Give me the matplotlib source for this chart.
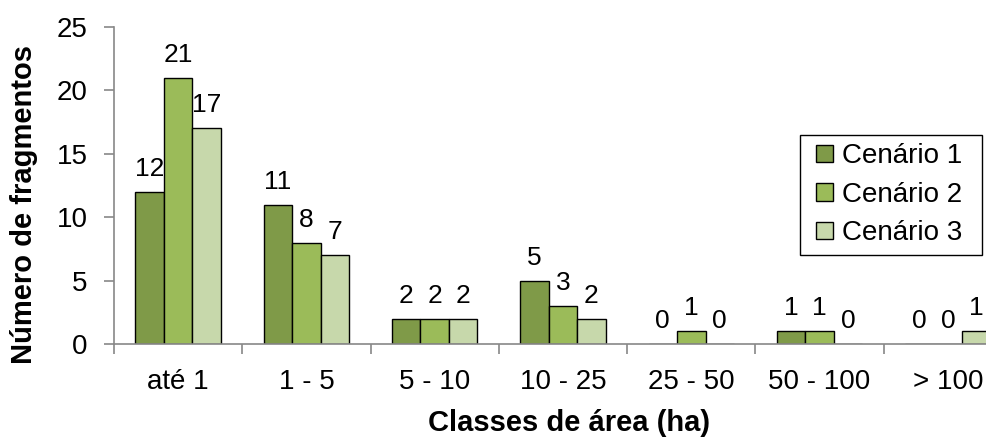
import matplotlib
matplotlib.use("Agg")
import matplotlib.pyplot as plt
import matplotlib.patches as mpatches
from matplotlib.legend_handler import HandlerPatch
from matplotlib.container import BarContainer
import numpy as np

categories = ["até 1", "1 - 5", "5 - 10", "10 - 25", "25 - 50", "50 - 100", "> 100"]
series_names = ["Cenário 1", "Cenário 2", "Cenário 3"]
cen1 = [12, 11, 2, 5, 0, 1, 0]
cen2 = [21, 8, 2, 3, 1, 1, 0]
cen3 = [17, 7, 2, 2, 0, 0, 1]
colors = ["#7F9A48", "#9BBB59", "#C7D8AB"]

plt.rcParams['font.family'] = ['Liberation Sans', 'DejaVu Sans']

fig = plt.figure(figsize=(9.86, 4.4), dpi=100)
ax = fig.add_axes([114/986, 96/440, 898/986, 317/440])

x = np.arange(len(categories))
w = 0.222
series = [cen1, cen2, cen3]
for i, (vals, name, c) in enumerate(zip(series, series_names, colors)):
    pos = x + (i - 1) * w
    ax.bar(pos, vals, width=w, color=c, edgecolor="black", linewidth=1.0, label=name, zorder=2)
    for px, v in zip(pos, vals):
        ax.annotate(str(v), (px, v), xytext=(0, 11.5), textcoords="offset points",
                    ha="center", va="baseline", fontsize=19, color="black")

ax.set_xlim(-0.5, len(categories) - 0.5)
ax.set_ylim(0, 25)
ax.set_yticks([0, 5, 10, 15, 20, 25])
ax.set_xticks(x)
ax.set_xticklabels(categories, fontsize=20)
ax.set_xticks(np.arange(-0.5, len(categories), 1.0), minor=True)
ax.tick_params(axis="x", which="major", length=0, pad=18)
ax.tick_params(axis="x", which="minor", length=7, color="#888888", width=1.2, direction="out")
ax.tick_params(axis="y", length=7, color="#888888", width=1.2, labelsize=20, pad=12)

for s in ["top", "right"]:
    ax.spines[s].set_visible(False)
for s in ["left", "bottom"]:
    ax.spines[s].set_color("#888888")
    ax.spines[s].set_linewidth(1.2)

fig.text(24/986, 1 - 204/440, "Número de fragmentos", rotation=90, ha="center", va="center",
         fontsize=21, fontweight="bold")
fig.text(569/986, 1 - 423/440, "Classes de área (ha)", ha="center", va="center",
         fontsize=21, fontweight="bold")


def square_patch(legend, orig_handle, xdescent, ydescent, width, height, fontsize):
    s = height
    return mpatches.Rectangle((-xdescent + width - s, -ydescent), s, s)


def update_from_first_child(tgt, src):
    first = next(iter(src.get_children()), None)
    if first is not None:
        tgt.update_from(first)


leg = fig.legend(loc="upper left", bbox_to_anchor=(800/986, 1 - 135/440), fontsize=20,
                 frameon=False, handlelength=0.88, handleheight=0.58, handletextpad=0.32,
                 borderpad=0.3, labelspacing=0.45, borderaxespad=0,
                 handler_map={BarContainer: HandlerPatch(patch_func=square_patch,
                                                         update_func=update_from_first_child)})

fig.canvas.draw()
bb = leg.get_window_extent()
frame = mpatches.Rectangle((800, bb.y0), 982 - 800, bb.height, transform=None,
                           fill=False, edgecolor="black", linewidth=1.0)
fig.patches.append(frame)

fig.savefig("out.png", dpi=100)
